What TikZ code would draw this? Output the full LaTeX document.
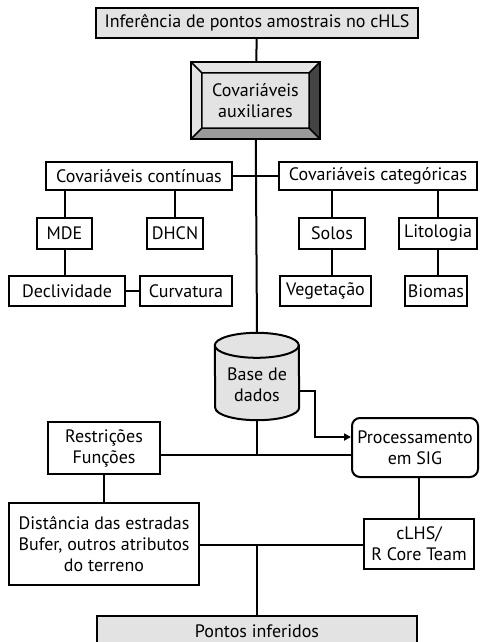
\documentclass[tikz,border=0pt]{standalone}
\usepackage{fontspec}
\setmainfont{PT Sans}
\usetikzlibrary{arrows.meta,positioning}
\definecolor{cobox}{HTML}{E3E3E3}
\definecolor{cobevdark}{HTML}{444444}
\definecolor{cobevmid}{HTML}{9A9A9A}

\begin{document}
\begin{tikzpicture}[x=1pt,y=-1pt,
  every node/.style={font=\fontsize{18}{21}\selectfont,inner sep=0pt},
  box/.style={draw,line width=2pt,align=center},
  greybox/.style={box,fill=cobox},
  roundbox/.style={box,rounded corners=8pt},
  link/.style={line width=2pt},
  arr/.style={link,-{Triangle[length=7pt,width=7pt]}}
]
\useasboundingbox (0,0) rectangle (479,642);
\clip (0,0) rectangle (479,642);
% top and bottom
\node[greybox,minimum width=322pt,minimum height=30pt] (infer) at (257,23) {Inferência de pontos amostrais no cHLS};
\node[greybox,minimum width=320pt,minimum height=30pt] (pontos) at (257,631) {Pontos inferidos};
% bevelled box
\node[minimum width=129pt,minimum height=77pt] (aux) at (255.5,100.5) {};
\coordinate (inw) at ([shift={(11pt,-11pt)}]aux.north west);
\coordinate (ine) at ([shift={(-11pt,-11pt)}]aux.north east);
\coordinate (isw) at ([shift={(11pt,11pt)}]aux.south west);
\coordinate (ise) at ([shift={(-11pt,11pt)}]aux.south east);
\fill[cobox] (aux.north west) rectangle (aux.south east);
\fill[cobevdark] (aux.north east) -- (aux.south east) -- (ise) -- (ine) -- cycle;
\fill[cobevmid] (aux.south west) -- (isw) -- (ise) -- (aux.south east) -- cycle;
\draw[line width=1.5pt] (inw) rectangle (ise)
  (aux.north west) -- (inw) (aux.north east) -- (ine)
  (aux.south west) -- (isw) (aux.south east) -- (ise);
\draw[line width=2.5pt] (aux.north west) rectangle (aux.south east);
\node[align=center] (auxtext) at (aux) {Covariáveis\\auxiliares};
% covariates
\node[box,minimum width=186pt,minimum height=28pt] (cont) at (139,176) {Covariáveis contínuas};
\node[box,minimum width=198pt,minimum height=28pt] (cat) at (378,176) {Covariáveis categóricas};
\node[box,minimum width=55pt,minimum height=31pt] (mde) at (64.5,233.5) {MDE};
\node[box,minimum width=56pt,minimum height=31pt] (dhcn) at (175,233.5) {DHCN};
\node[box,minimum width=116pt,minimum height=30pt] (decl) at (67,291) {Declividade};
\node[box,minimum width=92pt,minimum height=30pt] (curv) at (186,291) {Curvatura};
\node[box,minimum width=66pt,minimum height=31pt] (solos) at (332,233.5) {Solos};
\node[box,minimum width=78pt,minimum height=31pt] (lito) at (438,233.5) {Litologia};
\node[box,minimum width=91pt,minimum height=30pt] (veget) at (325.5,291) {Vegetação};
\node[box,minimum width=62pt,minimum height=30pt] (biomas) at (436,291) {Biomas};
% database
\node[minimum width=84pt,minimum height=87pt] (db) at (257,376.5) {};
\filldraw[fill=cobox,line width=2pt] (db.north west) ++(0,12.5)
  arc[start angle=180,end angle=0,x radius=42pt,y radius=12.5pt]
  -- ([yshift=12.5pt]db.south east)
  arc[start angle=0,end angle=-180,x radius=42pt,y radius=12.5pt] -- cycle;
\draw[line width=2pt] ([yshift=-12.5pt]db.north west)
  arc[start angle=180,end angle=360,x radius=42pt,y radius=12.5pt];
\node[align=center] (dbtext) at ([yshift=-8pt]db) {Base de\\dados};
% lower part
\node[roundbox,minimum width=126pt,minimum height=59pt] (sig) at (415,447.5) {Processamento\\em SIG};
\node[box,minimum width=112pt,minimum height=52pt] (restr) at (104,448) {Restrições\\Funções};
\node[box,minimum width=190pt,minimum height=82pt] (dist) at (104,544) {Distância das estradas\\Bufer, outros atributos\\do terreno};
\node[box,minimum width=110pt,minimum height=50pt] (clhs) at (419,544) {cLHS/\\R Core Team};
\coordinate (j1) at (257,455);
\coordinate (j2) at (257,545);
% connectors
\draw[link] (infer) -- (aux);
\draw[link] (aux) -- (db.north);
\draw[link] (cont) -- (cat);
\draw[link] (mde) -- (mde |- cont.south);
\draw[link] (dhcn) -- (dhcn |- cont.south);
\draw[link] (mde) -- (mde |- decl.north);
\draw[link] (decl) -- (curv);
\draw[link] (solos) -- (solos |- cat.south);
\draw[link] (lito) -- (lito |- cat.south);
\draw[link] (solos) -- (solos |- veget.north);
\draw[link] (lito) -- (lito |- biomas.north);
\draw[arr] ([yshift=-14.5pt]db.east) -- ++(16,0) |- ([yshift=10.5pt]sig.west);
\draw[link] (db.south) -- (j1);
\draw[link] (restr.east |- j1) -- (sig.west |- j1);
\draw[link] (restr) -- (dist);
\draw[link] (clhs) -- (clhs |- sig.south);
\draw[link] (dist.east |- j2) -- (clhs.west |- j2);
\draw[link] (j2) -- (pontos);
\end{tikzpicture}
\end{document}
